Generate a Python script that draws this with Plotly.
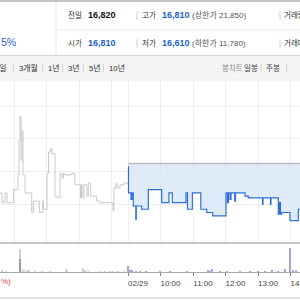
import plotly.graph_objects as go

# ---------------- data ----------------
prev_close = 16820
header_row1 = [("전일", "16,820"), ("고가", "16,810"), ("(상한가 21,850)",)]
header_row2 = [("시가", "16,810"), ("저가", "16,610"), ("(하한가 11,780)",)]
change_text = "5%"
period_tabs = ["3개월", "1년", "3년", "5년", "10년"]
chart_tabs = ["봉차트", "일봉", "주봉"]

# time axis: hours relative to 02/29 09:00 (previous session shown to the left)
tick_vals = [0, 1, 2, 3, 4, 5]
tick_text = ["02/29", "10:00", "11:00", "12:00", "13:00", "14:00"]
grid_hours = [-3.5, -2.5, -1.5, -0.5, 0, 1, 2, 3, 4, 5]

# previous session price (gray)
prev_t = [-3.938, -3.877, -3.785, -3.723, -3.523, -3.385, -3.354, -3.323, -3.292, -3.262,
          -3.231, -3.169, -2.963, -2.914, -2.729, -2.625, -2.600, -2.492, -2.446, -2.385,
          -2.338, -2.246, -2.185, -2.092, -2.031, -1.985, -1.938, -1.732, -1.631, -1.462,
          -1.431, -1.385, -1.354, -1.262, -1.222, -1.148, -0.963, -0.862, -0.462, -0.431,
          -0.369, -0.338, -0.246, -0.123, 0.0]
prev_p = [16730, 16700, 16730, 16700, 16740, 16785, 16890, 16965, 16830, 16920,
          16785, 16730, 16670, 16705, 16670, 16705, 16680, 16790, 16855, 16865,
          16850, 16720, 16715, 16790, 16775, 16790, 16785, 16790, 16755, 16715,
          16755, 16715, 16755, 16720, 16760, 16720, 16705, 16700, 16675, 16745,
          16760, 16745, 16755, 16760, 16760]

# today's price (blue)
today_t = [0.000, 0.015, 0.092, 0.123, 0.163, 0.240, 0.255, 0.420, 0.625, 1.037,
           1.260, 1.363, 1.785, 1.830, 1.980, 2.240, 2.420, 2.606, 3.015, 3.060,
           3.090, 3.140, 3.170, 3.285, 3.308, 3.600, 3.700, 4.140, 4.154, 4.385,
           4.400, 4.625, 4.660, 4.690, 4.730, 4.985, 5.240, 5.300]
today_p = [16810, 16730, 16710, 16730, 16690, 16650, 16690, 16680, 16740, 16700,
           16730, 16700, 16730, 16680, 16730, 16680, 16670, 16660, 16730, 16700,
           16730, 16710, 16730, 16705, 16730, 16720, 16715, 16695, 16715, 16695,
           16715, 16665, 16700, 16665, 16670, 16645, 16680, 16680]

# volume
vol_prev_t = [-3.877, -3.754, -3.323, -3.246, -3.200, -3.108, -3.046, -2.862, -2.646, -2.400,
              -1.908, -1.877, -1.385, -1.323, -1.231, -0.862, -0.708, -0.554, -0.462, -0.308, -0.123]
vol_prev_v = [1200, 900, 23500, 4000, 2000, 1800, 1200, 700, 1000, 500,
              3000, 1500, 4000, 2000, 900, 500, 700, 500, 1000, 700, 900]
vol_dark_t = [-3.323]
vol_dark_v = [13000]
vol_today_t = [0.0, 0.062, 0.123, 0.246, 0.369, 0.554, 0.985, 1.292, 1.815, 2.462,
               2.523, 2.585, 2.831, 3.046, 3.446, 3.754, 4.0, 4.215, 4.431, 4.615,
               4.831, 4.985, 5.077, 5.169]
vol_today_v = [6500, 1500, 2500, 900, 700, 800, 500, 700, 1000, 2500,
               1000, 3500, 700, 1000, 500, 700, 800, 1000, 1200, 800,
               3000, 24000, 1800, 1500]

# ---------------- figure ----------------
FONT = "Liberation Sans, Noto Sans CJK KR, sans-serif"
W = H = 300
K = 3.06            # price units per pixel
PC_PY = 163.5       # pixel row of previous close


def xp(px):
    return px / W


def yp(py):
    return 1 - py / H


x_min = -128 / 32.5
x_max = 172 / 32.5
main_top, main_bot = 80, 243
vol_top, vol_bot = 243, 272
p_max = prev_close + (PC_PY - main_top) * K
p_min = prev_close - (main_bot - PC_PY) * K
grid_p = [16795 + 100 * i for i in range(-1, 3)]

fig = go.Figure()
fig.add_trace(go.Scatter(x=prev_t, y=prev_p, mode="lines", line=dict(color="#c9c9c9", width=1, shape="hv"),
                         xaxis="x", yaxis="y", hoverinfo="skip"))
fig.add_trace(go.Scatter(x=[0, x_max], y=[prev_close, prev_close], mode="lines",
                         line=dict(color="#bdbdbd", width=1.5), xaxis="x", yaxis="y", hoverinfo="skip"))
fig.add_trace(go.Scatter(x=today_t, y=today_p, mode="lines", line=dict(color="#2f6fd6", width=1.2, shape="hv"),
                         fill="tonexty", fillcolor="rgba(214,228,247,0.75)", xaxis="x", yaxis="y", hoverinfo="skip"))
fig.add_trace(go.Bar(x=vol_prev_t, y=vol_prev_v, marker=dict(color="#d2d2d2", line=dict(width=0)), width=0.03,
                     xaxis="x2", yaxis="y2"))
fig.add_trace(go.Bar(x=vol_dark_t, y=vol_dark_v, marker=dict(color="#8e9bb2", line=dict(width=0)), width=0.03,
                     xaxis="x2", yaxis="y2"))
fig.add_trace(go.Bar(x=vol_today_t, y=vol_today_v, marker=dict(color="#aaa3dc", line=dict(width=0)), width=0.035,
                     xaxis="x2", yaxis="y2"))

shapes = []


def hline(py, x0, x1, color, w=1):
    shapes.append(dict(type="line", xref="paper", yref="paper", x0=xp(x0), x1=xp(x1), y0=yp(py), y1=yp(py),
                       line=dict(color=color, width=w)))


def vline(px, y0, y1, color, w=1):
    shapes.append(dict(type="line", xref="paper", yref="paper", x0=xp(px), x1=xp(px), y0=yp(y0), y1=yp(y1),
                       line=dict(color=color, width=w)))


# header
hline(1, 0, 300, "#c4c4c4", 2)
vline(56, 2, 55, "#e3e3e3")
hline(30, 56, 300, "#ececec")
for sx in (137, 280):
    vline(sx, 11, 20, "#cfcfcf")
    vline(sx, 39, 48, "#cfcfcf")
# tab bar
shapes.append(dict(type="rect", xref="paper", yref="paper", x0=0, x1=1, y0=yp(80), y1=yp(56),
                   fillcolor="#f4f4f4", line=dict(width=0), layer="below"))
hline(55.5, 0, 300, "#d6d6d6")
hline(80, 0, 300, "#e8e8e8")
for sx in (13.3, 42.7, 62.7, 83.3, 103.3, 261, 286.7):
    vline(sx, 64, 72, "#d2d2d2")
# separators of chart
hline(243, 0, 300, "#8c8c8c")
hline(298, 0, 300, "#c8c8c8")

ann = []


def text(px, py, s, color="#333", size=7.5, bold=False, anchor="left"):
    if bold:
        s = "<b>" + s + "</b>"
    ann.append(dict(xref="paper", yref="paper", x=xp(px), y=yp(py), text=s, showarrow=False,
                    xanchor=anchor, yanchor="middle", font=dict(family=FONT, size=size, color=color)))


BLUE = "#1f5fcf"
text(-1, 42.5, change_text, BLUE, 10.5)
for row_py, row in ((15.5, header_row1), (43.3, header_row2)):
    text(66, row_py, row[0][0], "#333", 7.5)
    text(86, row_py, row[0][1], "#111" if row is header_row1 else BLUE, 9, bold=True)
    text(140, row_py, row[1][0], "#333", 7.5)
    text(160, row_py, row[1][1], BLUE, 9, bold=True)
    text(190, row_py, row[2][0], "#555", 8)
text(282, 15.5, "거래량", "#333", 7.5)
text(282, 43.3, "거래대금", "#333", 7.5)

text(8.5, 68, "5일", "#333", 7.8, anchor="right")
for px, s in zip((17, 45.5, 65.5, 87, 107), period_tabs):
    text(px, 68, s, "#333", 7.8)
text(220, 68, chart_tabs[0], "#8a8a8a", 7.5)
text(242, 68, chart_tabs[1], "#444", 7.5)
text(264, 68, chart_tabs[2], "#444", 7.5)
text(-1, 281, "%)", "#e0413a", 8)

fig.update_layout(
    width=W, height=H, margin=dict(l=0, r=0, t=0, b=0, autoexpand=False),
    paper_bgcolor="white", plot_bgcolor="rgba(0,0,0,0)",
    showlegend=False, barmode="overlay", bargap=0,
    shapes=shapes, annotations=ann,
    xaxis=dict(domain=[0, 1], range=[x_min, x_max], anchor="y", tickvals=grid_hours, showticklabels=False,
               showgrid=True, gridcolor="#eeeeee", gridwidth=1, zeroline=False, ticks="", showline=False,
               automargin=False),
    yaxis=dict(domain=[yp(main_bot), yp(main_top)], range=[p_min, p_max], tickvals=grid_p, showticklabels=False,
               showgrid=True, gridcolor="#eeeeee", zeroline=False, ticks="", showline=False, automargin=False),
    xaxis2=dict(domain=[0, 1], range=[x_min, x_max], matches="x", anchor="y2", tickvals=tick_vals,
                ticktext=tick_text, ticks="outside", ticklen=3, tickcolor="#888", showline=True,
                linecolor="#a8a8a8", showgrid=False, zeroline=False, ticklabelshift=10,
                ticklabeloverflow="allow", tickangle=0, automargin=False,
                tickfont=dict(family=FONT, size=8, color="#444")),
    yaxis2=dict(domain=[yp(vol_bot), yp(vol_top)], range=[0, 29000], showgrid=False, showticklabels=False,
                zeroline=False, ticks="", automargin=False),
)

fig.write_html("out.html")
